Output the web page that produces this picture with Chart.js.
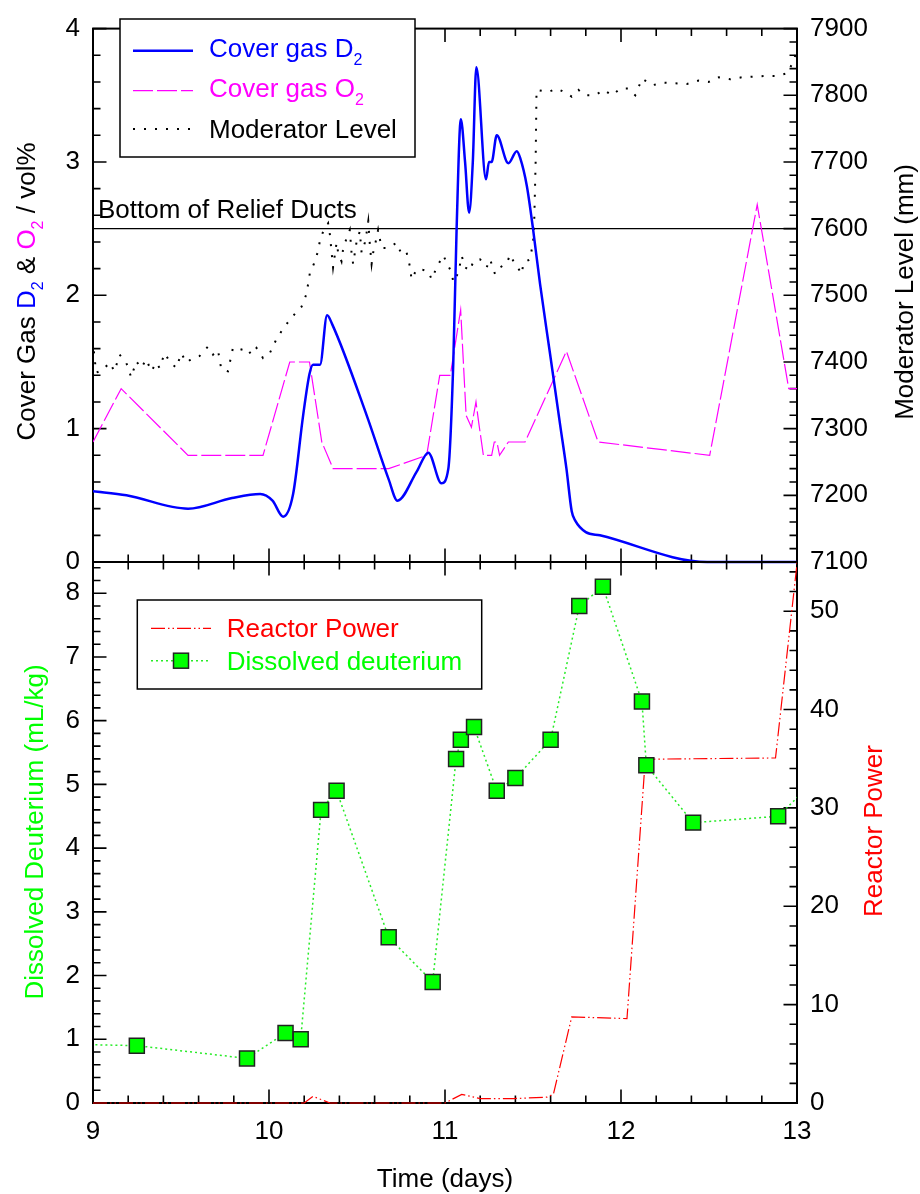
<!DOCTYPE html>
<html>
<head>
<meta charset="utf-8">
<title>Cover gas and dissolved deuterium</title>
<script src="https://cdn.jsdelivr.net/npm/chart.js@4.4.1/dist/chart.umd.min.js"></script>
<style>
  html, body { margin: 0; padding: 0; background: #fff; }
  #wrap { position: relative; width: 920px; height: 1194px; }
  #wrap canvas { position: absolute; left: 0; top: 0; }
</style>
</head>
<body>
<div id="wrap">
  <canvas id="gasChart" width="920" height="1194"></canvas>
  <canvas id="waterChart" width="920" height="1194"></canvas>
</div>
<script>
// ---- cover gas (top panel) ----
const d2Time = [9.0, 9.19, 9.54, 9.79, 9.95, 10.02, 10.08, 10.137, 10.194, 10.23, 10.25, 10.29, 10.33, 10.36, 10.555,
  10.68, 10.73, 10.84, 10.905, 10.98, 11.019, 11.047, 11.066, 11.09, 11.114, 11.137, 11.158, 11.178, 11.233, 11.25,
  11.265, 11.294, 11.36, 11.408, 11.427, 11.465, 11.50, 11.54, 11.597, 11.654, 11.69, 11.72, 11.74, 11.80, 11.88,
  12.49, 13.0];
const d2Vol = [0.53, 0.50, 0.40, 0.48, 0.51, 0.46, 0.34, 0.51, 1.10, 1.41, 1.48, 1.48, 1.85, 1.78, 1.10,
  0.62, 0.46, 0.68, 0.82, 0.59, 0.70, 1.49, 2.50, 3.32, 3.00, 2.62, 3.00, 3.71, 2.87, 3.00,
  3.00, 3.20, 2.99, 3.08, 3.03, 2.82, 2.50, 2.085, 1.56, 1.03, 0.70, 0.38, 0.31, 0.224, 0.20,
  0.0, 0.0];

const o2Time = [9.0, 9.16, 9.54, 9.966, 10.118, 10.23, 10.30, 10.364, 10.68, 10.896, 10.97, 11.03, 11.089, 11.12, 11.15,
  11.176, 11.19, 11.218, 11.265, 11.28, 11.295, 11.31, 11.36, 11.455, 11.69, 11.87, 12.504, 12.774, 12.953, 13.0];
const o2Vol = [0.90, 1.30, 0.80, 0.80, 1.50, 1.50, 0.90, 0.70, 0.70, 0.80, 1.40, 1.40, 1.89, 1.10, 1.01,
  1.20, 1.06, 0.80, 0.80, 0.90, 0.90, 0.80, 0.90, 0.90, 1.58, 0.90, 0.80, 2.68, 1.30, 1.30];

const modTime = [9.005, 9.018, 9.056, 9.094, 9.122, 9.151, 9.189, 9.217, 9.246, 9.274, 9.303, 9.331, 9.36, 9.378, 9.407,
  9.435, 9.473, 9.502, 9.53, 9.568, 9.606, 9.653, 9.682, 9.71, 9.729, 9.767, 9.795, 9.834, 9.872, 9.90,
  9.929, 9.966, 10.004, 10.04, 10.08, 10.118, 10.156, 10.185, 10.213, 10.232, 10.255, 10.276, 10.289, 10.308, 10.336,
  10.346, 10.364, 10.384, 10.393, 10.412, 10.421, 10.441, 10.459, 10.469, 10.478, 10.498, 10.516, 10.526, 10.545, 10.554,
  10.564, 10.573, 10.583, 10.592, 10.611, 10.62, 10.64, 10.668, 10.697, 10.725, 10.754, 10.782, 10.80, 10.81, 10.839,
  10.877, 10.905, 10.924, 10.953, 10.99, 11.019, 11.038, 11.047, 11.076, 11.095, 11.114, 11.142, 11.161, 11.199, 11.237,
  11.256, 11.284, 11.313, 11.351, 11.37, 11.389, 11.408, 11.436, 11.446, 11.484, 11.493, 11.505, 11.515, 11.52, 11.588,
  11.636, 11.692, 11.72, 11.758, 11.797, 11.854, 11.90, 11.95, 11.996, 12.043, 12.081, 12.12, 12.176, 12.242, 12.309,
  12.375, 12.441, 12.498, 12.555, 12.622, 12.688, 12.754, 12.821, 12.883, 12.944, 12.982, 12.99, 13.0];
const modLevel = [7416, 7384, 7388, 7399, 7386, 7411, 7399, 7377, 7401, 7391, 7404, 7386, 7399, 7391, 7413,
  7401, 7391, 7413, 7399, 7406, 7409, 7423, 7411, 7418, 7389, 7386, 7421, 7418, 7421, 7411,
  7421, 7406, 7413, 7433, 7450, 7463, 7475, 7483, 7502, 7533, 7547, 7564, 7581, 7596, 7608,
  7591, 7542, 7579, 7564, 7551, 7569, 7586, 7598, 7564, 7547, 7581, 7596, 7564, 7579, 7593,
  7611, 7576, 7547, 7564, 7586, 7598, 7571, 7571, 7574, 7579, 7561, 7564, 7544, 7524, 7539,
  7538, 7536, 7524, 7542, 7560, 7544, 7534, 7520, 7534, 7559, 7542, 7537, 7551, 7554, 7542,
  7554, 7532, 7542, 7548, 7561, 7551, 7544, 7532, 7549, 7554, 7569, 7590, 7700, 7808, 7805,
  7810, 7803, 7798, 7808, 7800, 7800, 7808, 7800, 7810, 7810, 7800, 7825, 7815, 7819, 7818,
  7817, 7822, 7820, 7827, 7824, 7827, 7828, 7829, 7829, 7833, 7852, 7860, 7868];

const reliefLevel = 2.5;

// ---- moderator water (bottom panel) ----
const dissTime = [8.9, 9.249, 9.875, 10.094, 10.18, 10.296, 10.384, 10.68, 10.93, 11.063, 11.09,
  11.165, 11.294, 11.40, 11.60, 11.763, 11.897, 12.119, 12.144, 12.41, 12.893, 13.1];
const dissVal = [0.92, 0.9, 0.7, 1.1, 1.0, 4.6, 4.9, 2.6, 1.9, 5.4, 5.7,
  5.9, 4.9, 5.1, 5.7, 7.8, 8.1, 6.3, 5.3, 4.4, 4.5, 5.06];

const powerTime = [9.0, 10.2, 10.25, 10.346, 11.0, 11.095, 11.2, 11.39, 11.58, 11.616, 11.72, 12.034, 12.138, 12.878, 12.99, 13.02];
const powerVal = [0, 0, 0.68, 0, 0, 0.88, 0.45, 0.45, 0.6, 0.9, 8.75, 8.58, 34.95, 35.08, 53.2, 58];

// ---- axes ----
const timeTicks = [9, 10, 11, 12, 13];
const gasTicks = [0, 1, 2, 3, 4];
const levelTicks = [7100, 7200, 7300, 7400, 7500, 7600, 7700, 7800, 7900];
const dissTicks = [0, 1, 2, 3, 4, 5, 6, 7, 8];
const powerTicks = [0, 10, 20, 30, 40, 50];

const FONT = "'Liberation Sans', Arial, Helvetica, sans-serif";
const MAIN_FONT = '26px ' + FONT;
const SUB_FONT = '16px ' + FONT;
const BLUE = '#0000ff', MAGENTA = '#ff00ff', GREEN = '#00ff00', RED = '#ff0000', BLACK = '#000';

Chart.defaults.font.family = FONT;
Chart.defaults.font.size = 26;
Chart.defaults.color = BLACK;

function pts(xs, ys) {
  return xs.map((x, i) => ({x: x, y: ys[i]}));
}

function fixedTicks(values) {
  return scale => { scale.ticks = values.map(v => ({value: v})); };
}

function yAxis(position, min, max, ticks, width) {
  return {
    type: 'linear', position: position, min: min, max: max,
    afterBuildTicks: fixedTicks(ticks),
    afterFit: s => { s.width = width; },
    grid: {display: false, drawTicks: false},
    border: {display: false},
    ticks: {padding: 13, color: BLACK, callback: v => String(v)}
  };
}

// frame plus inward major/minor tick marks, [minor, major] per scale id
function tickMarks(steps) {
  return {
    id: 'tickMarks',
    beforeDatasetsDraw(chart) {
      const {ctx, chartArea: a} = chart;
      ctx.save();
      ctx.strokeStyle = BLACK;
      ctx.lineWidth = 2;
      ctx.strokeRect(a.left, a.top, a.right - a.left, a.bottom - a.top);
      ctx.lineWidth = 1.6;
      ctx.beginPath();
      Object.keys(steps).forEach(id => {
        const scale = chart.scales[id];
        const minor = steps[id][0], major = steps[id][1];
        const n = Math.floor((scale.max - scale.min) / minor + 1e-6);
        for (let i = 0; i <= n; i++) {
          const v = scale.min + i * minor;
          const len = Math.abs(v / major - Math.round(v / major)) < 1e-6 ? 13.5 : 7.5;
          const p = scale.getPixelForValue(v);
          if (scale.isHorizontal()) {
            ctx.moveTo(p, a.bottom); ctx.lineTo(p, a.bottom - len);
            ctx.moveTo(p, a.top); ctx.lineTo(p, a.top + len);
          } else if (scale.position === 'left') {
            ctx.moveTo(a.left, p); ctx.lineTo(a.left + len, p);
          } else {
            ctx.moveTo(a.right, p); ctx.lineTo(a.right - len, p);
          }
        }
      });
      ctx.stroke();
      ctx.restore();
    }
  };
}

// text made of runs: [text, colour, subscript?]
function drawRich(ctx, parts, x, y, center) {
  let w = 0;
  parts.forEach(p => { ctx.font = p[2] ? SUB_FONT : MAIN_FONT; w += ctx.measureText(p[0]).width; });
  let cx = center ? x - w / 2 : x;
  ctx.textAlign = 'left';
  ctx.textBaseline = 'alphabetic';
  parts.forEach(p => {
    ctx.font = p[2] ? SUB_FONT : MAIN_FONT;
    ctx.fillStyle = p[1];
    ctx.fillText(p[0], cx, p[2] ? y + 8 : y);
    cx += ctx.measureText(p[0]).width;
  });
}

function drawVertical(ctx, parts, baseX, centerY) {
  ctx.save();
  ctx.translate(baseX, centerY);
  ctx.rotate(-Math.PI / 2);
  drawRich(ctx, parts, 0, 0, true);
  ctx.restore();
}

function sampleLine(ctx, ds, x0, x1, y) {
  ctx.save();
  ctx.strokeStyle = ds.borderColor;
  ctx.lineWidth = ds.borderWidth;
  ctx.setLineDash(ds.borderDash || []);
  ctx.beginPath();
  ctx.moveTo(x0, y);
  ctx.lineTo(x1, y);
  ctx.stroke();
  ctx.restore();
}

function drawBox(ctx, x, y, w, h) {
  ctx.save();
  ctx.fillStyle = '#fff';
  ctx.fillRect(x, y, w, h);
  ctx.strokeStyle = BLACK;
  ctx.lineWidth = 1.5;
  ctx.strokeRect(x, y, w, h);
  ctx.restore();
}

// ---- top panel ----
const gasSets = [
  {
    label: 'Cover gas D2', data: pts(d2Time, d2Vol), yAxisID: 'y',
    borderColor: BLUE, borderWidth: 2.5, pointRadius: 0,
    cubicInterpolationMode: 'monotone', clip: {left: 0, top: 0, right: 0, bottom: 2}
  },
  {
    label: 'Cover gas O2', data: pts(o2Time, o2Vol), yAxisID: 'y',
    borderColor: MAGENTA, borderWidth: 1.2, borderDash: [20, 4], pointRadius: 0
  },
  {
    label: 'Moderator Level', data: pts(modTime, modLevel), yAxisID: 'level',
    borderColor: BLACK, borderWidth: 2, borderDash: [2, 9], pointRadius: 0
  }
];

const gasDecor = {
  id: 'gasDecor',
  beforeDatasetsDraw(chart) {
    const {ctx, chartArea: a, scales} = chart;
    const y = scales.y.getPixelForValue(reliefLevel);
    ctx.save();
    ctx.strokeStyle = BLACK;
    ctx.lineWidth = 1.3;
    ctx.beginPath();
    ctx.moveTo(a.left, y);
    ctx.lineTo(a.right, y);
    ctx.stroke();
    drawRich(ctx, [['Bottom of Relief Ducts', BLACK]], a.left + 5, y - 11, false);
    ctx.restore();
  },
  afterDraw(chart) {
    const ctx = chart.ctx;
    ctx.save();
    drawVertical(ctx, [['Cover Gas ', BLACK], ['D', BLUE], ['2', BLUE, true], [' & ', BLACK],
      ['O', MAGENTA], ['2', MAGENTA, true], [' / vol%', BLACK]], 35, 291.5);
    drawVertical(ctx, [['Moderator Level (mm)', BLACK]], 913, 292);

    drawBox(ctx, 120, 19, 295, 138);
    const rows = [
      {ds: gasSets[0], lineY: 50.7, textY: 56.7, parts: [['Cover gas D', BLUE], ['2', BLUE, true]]},
      {ds: gasSets[1], lineY: 90.7, textY: 97.3, parts: [['Cover gas O', MAGENTA], ['2', MAGENTA, true]]},
      {ds: gasSets[2], lineY: 129, textY: 138.3, parts: [['Moderator Level', BLACK]]}
    ];
    rows.forEach(r => {
      sampleLine(ctx, r.ds, 133, 193, r.lineY);
      drawRich(ctx, r.parts, 209, r.textY, false);
    });
    ctx.restore();
  }
};

new Chart(document.getElementById('gasChart'), {
  type: 'line',
  data: {datasets: gasSets},
  options: {
    responsive: false,
    animation: false,
    devicePixelRatio: 1,
    events: [],
    layout: {padding: {top: 21, bottom: 632, left: 0, right: 0}},
    scales: {
      x: {type: 'linear', min: 9, max: 13, display: false},
      y: yAxis('left', 0, 4, gasTicks, 93),
      level: yAxis('right', 7100, 7900, levelTicks, 123)
    },
    plugins: {legend: {display: false}, tooltip: {enabled: false}}
  },
  plugins: [tickMarks({x: [0.2, 1], y: [0.2, 1], level: [20, 100]}), gasDecor]
});

// ---- bottom panel ----
const waterSets = [
  {
    label: 'Dissolved deuterium', data: pts(dissTime, dissVal), yAxisID: 'y',
    borderColor: 'rgb(40, 235, 40)', borderWidth: 1.5, borderDash: [2, 3],
    pointStyle: 'rect', pointRadius: 10.6, pointBackgroundColor: GREEN,
    pointBorderColor: '#222', pointBorderWidth: 1.5
  },
  {
    label: 'Reactor Power', data: pts(powerTime, powerVal), yAxisID: 'power',
    borderColor: RED, borderWidth: 1.2, borderDash: [14, 3, 1.5, 3, 1.5, 3], pointRadius: 0,
    clip: {left: 0, top: 0, right: 0, bottom: 1}
  }
];

const waterDecor = {
  id: 'waterDecor',
  afterDraw(chart) {
    const {ctx, chartArea: a} = chart;
    ctx.save();
    drawVertical(ctx, [['Dissolved Deuterium (mL/kg)', GREEN]], 43, 832);
    drawVertical(ctx, [['Reactor Power', RED]], 882, 831);
    drawRich(ctx, [['Time (days)', BLACK]], (a.left + a.right) / 2, 1187, true);

    drawBox(ctx, 137.3, 600, 344.4, 89);
    sampleLine(ctx, waterSets[1], 151, 211, 628.3);
    drawRich(ctx, [['Reactor Power', RED]], 226.7, 637.3, false);
    sampleLine(ctx, waterSets[0], 151, 211, 660.7);
    ctx.fillStyle = GREEN;
    ctx.strokeStyle = '#222';
    ctx.lineWidth = 1.5;
    ctx.fillRect(173.5, 653.2, 15, 15);
    ctx.strokeRect(173.5, 653.2, 15, 15);
    drawRich(ctx, [['Dissolved deuterium', GREEN]], 226.7, 670, false);
    ctx.restore();
  }
};

new Chart(document.getElementById('waterChart'), {
  type: 'line',
  data: {datasets: waterSets},
  options: {
    responsive: false,
    animation: false,
    devicePixelRatio: 1,
    events: [],
    layout: {padding: {top: 562, bottom: 0, left: 0, right: 0}},
    scales: {
      x: {
        type: 'linear', position: 'bottom', min: 9, max: 13,
        afterBuildTicks: fixedTicks(timeTicks),
        afterFit: s => { s.height = 91; },
        grid: {display: false, drawTicks: false},
        border: {display: false},
        ticks: {padding: 13, color: BLACK, autoSkip: false, maxRotation: 0, callback: v => String(v)}
      },
      y: yAxis('left', 0, 8.49, dissTicks, 93),
      power: yAxis('right', 0, 55, powerTicks, 123)
    },
    plugins: {legend: {display: false}, tooltip: {enabled: false}}
  },
  plugins: [tickMarks({x: [0.2, 1], y: [0.2, 1], power: [2, 10]}), waterDecor]
});
</script>
</body>
</html>
